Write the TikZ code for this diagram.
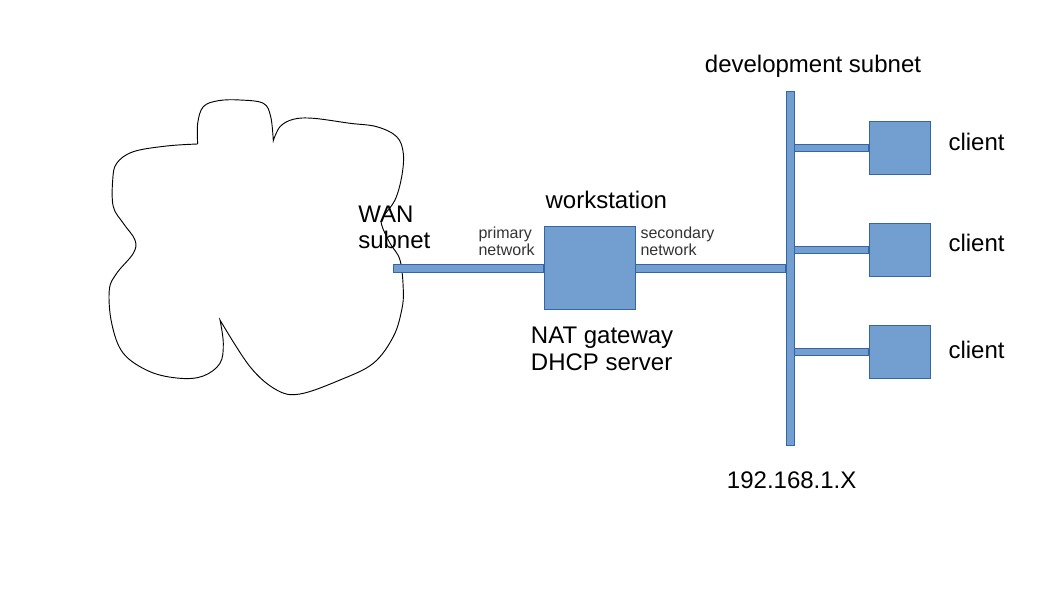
\documentclass[tikz,border=0pt]{standalone}
\usepackage{fontspec}
\setmainfont{Liberation Sans}
\usetikzlibrary{calc,backgrounds}
\definecolor{boxfill}{HTML}{729FCF}
\definecolor{boxline}{HTML}{3465A4}
\definecolor{smalltext}{HTML}{333333}
\begin{document}
\begin{tikzpicture}[x=0.75pt,y=-0.75pt,
  hw/.style={draw=boxline, fill=boxfill, line width=0.75pt, inner sep=0pt, rectangle},
  bar/.style={draw=boxline, fill=boxfill, line width=0.75pt},
  big/.style={font=\fontsize{18}{20}\selectfont, inner sep=0pt, align=left, text=black},
  small/.style={font=\fontsize{12}{13}\selectfont, inner sep=0pt, align=left, text=smalltext},
  cloudline/.style={draw=black, line width=0.7pt}]
\useasboundingbox (0,0) rectangle (1058,595);

% hardware boxes
\node[hw, minimum width=68.25pt, minimum height=62.25pt] (ws) at (589.5,268.5) {};
\node[hw, minimum width=6pt, minimum height=265.5pt] (bus) at (790,269) {};
\node[hw, minimum width=45.75pt, minimum height=39.75pt] (c1) at (899.5,147.8) {};
\node[hw, minimum width=45.75pt, minimum height=39.75pt] (c2) at (899.5,249.7) {};
\node[hw, minimum width=45.75pt, minimum height=39.75pt] (c3) at (899.5,351.7) {};
\coordinate (wanend) at (393,268.5);

\begin{scope}[on background layer]
  % cloud
  \draw[cloudline] plot[smooth, tension=0.6] coordinates {(197.7,144) (197.7,123.3) (203.3,106.7) (218.3,100.7) (240,100) (263.3,103.3) (270.7,116.7) (273.3,140.7)}
    -- plot[smooth, tension=0.6] coordinates {(273.3,140.7) (280,126.7) (293.3,119.3) (313.3,118.3) (350,123.3) (376.7,126.7) (396.7,136.7) (403.3,153.3) (401.7,176.7) (395,200) (383.3,216.7) (381.7,225) (390,243.3) (400,260) (403.3,290) (401.7,310) (393.3,336.7) (373.3,363.3) (340,380) (300,394) (276.7,390) (250,366.7) (220,320)}
    -- plot[smooth, tension=0.6] coordinates {(220,320) (223.3,343.3) (220,363.3) (203.3,376) (180,378.3) (150,371.7) (123.3,353.3) (111.7,323.3) (109.3,290) (116.7,273.3) (133.3,253.3) (135,240) (123.3,223.3) (113.3,206.7) (112.7,180) (116.7,163.3) (133.3,151.7) (166.7,146) (197.7,144)};
  % connectors
  \draw[bar] ($(wanend)+(0,-4)$) rectangle ($(ws.west)+(0,4)$);
  \draw[bar] ($(ws.east)+(0,-4)$) rectangle ($(bus.west |- ws.east)+(0,4)$);
  \draw[bar] ($(bus.east |- c1.west)+(0,-3.5)$) rectangle ($(c1.west)+(0,3.5)$);
  \draw[bar] ($(bus.east |- c2.west)+(0,-3.5)$) rectangle ($(c2.west)+(0,3.5)$);
  \draw[bar] ($(bus.east |- c3.west)+(0,-3.5)$) rectangle ($(c3.west)+(0,3.5)$);
\end{scope}

% labels
\node[big, anchor=west] (wan) at (358,227.5) {WAN\\subnet};
\node[big] (wslabel) at (606.3,200) {workstation};
\node[small, anchor=west] (prim) at (478.3,241.5) {primary\\network};
\node[small, anchor=west] (sec) at (640.3,241.5) {secondary\\network};
\node[big, anchor=west] (nat) at (530.7,349) {NAT gateway\\DHCP server};
\node[big] (dev) at (813,65.8) {development subnet};
\node[big] (ip) at (791.7,480) {192.168.1.X};
\node[big, anchor=west] (l1) at (948.3,141.7) {client};
\node[big, anchor=west] (l2) at (948.3,243) {client};
\node[big, anchor=west] (l3) at (948.3,349.5) {client};
\end{tikzpicture}
\end{document}
